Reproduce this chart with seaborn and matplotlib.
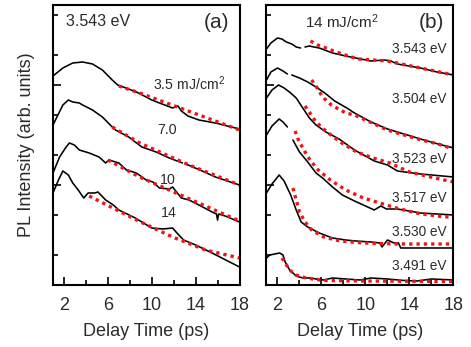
import matplotlib
matplotlib.use('Agg')
import matplotlib.pyplot as plt
import numpy as np
import pandas as pd
import seaborn as sns
from matplotlib.ticker import LogLocator, NullFormatter

# ------------------------------------------------------------------------------------------------ #
# PL transients, log10 of intensity (arb. units, curves offset for clarity). None = gap in trace.
# panel (a): 3.543 eV emission at four excitation fluences
a_labels = ['3.5 mJ/cm$^2$', '7.0', '10', '14']

a35_t = [1.0, 1.45, 1.9, 2.8, 3.7, 4.6, 5.5, 5.95, 6.4, 6.9, 7.9, 8.8, 10.0, 10.7, 11.9, 12.4, 12.7,
         13.3, 14.3, 15.8, 18.0]
a35_pl = [2.09, 2.13, 2.17, 2.22, 2.23, 2.21, 2.15, 2.10, 2.05, 2.00, 1.96, 1.92, 1.85, 1.82, 1.77,
          1.79, 1.74, 1.69, 1.65, 1.62, 1.56]
a35_fit_t = [7.0, 8.9, 18.0]
a35_fit = [1.99, 1.92, 1.55]

a70_t = [1.0, 1.45, 1.9, 2.4, 2.8, 3.4, 3.7, 4.6, 5.5, 6.4, 6.7, 7.9, 9.1, 10.4, 11.6, 12.8, 13.0,
         13.1, 14.4, 15.8, 18.0]
a70_pl = [1.60, 1.70, 1.80, 1.85, 1.83, 1.82, 1.80, 1.75, 1.68, 1.58, 1.55, 1.48, 1.38, 1.33, 1.27,
          1.22, None, 1.21, 1.15, 1.08, 1.00]
a70_fit_t = [6.4, 8.9, 13.4, 18.0]
a70_fit = [1.58, 1.42, 1.20, 1.00]

a10_t = [1.0, 1.3, 1.6, 2.2, 2.5, 2.95, 3.4, 4.3, 5.2, 5.8, 6.1, 7.0, 7.7, 8.6, 9.5, 10.1, 10.7,
         11.6, 11.9, 12.7, 13.4, 14.3, 15.5, 15.9, 16.0, 16.1, 16.7, 18.0]
a10_pl = [1.12, 1.20, 1.28, 1.38, 1.42, 1.40, 1.35, 1.32, 1.28, 1.22, 1.25, 1.22, 1.15, 1.12, 1.05,
          1.03, 0.97, 0.96, 0.98, 0.87, 0.85, 0.80, 0.73, 0.71, 0.65, 0.71, 0.69, 0.63]
a10_fit_t = [6.0, 8.9, 18.0]
a10_fit = [1.25, 1.08, 0.64]

a14_t = [1.0, 1.5, 1.9, 2.4, 2.8, 3.3, 3.8, 4.2, 4.8, 5.1, 5.8, 6.5, 7.0, 8.5, 10.0, 11.0, 11.9,
         12.3, 12.9, 14.0, 15.5, 18.0]
a14_pl = [0.92, 1.05, 1.14, 1.10, 1.02, 0.95, 0.87, 0.92, 0.92, 0.93, 0.85, 0.80, 0.75, 0.67, 0.57,
          0.56, 0.57, 0.52, 0.45, 0.40, 0.32, 0.18]
a14_fit_t = [4.3, 8.8, 11.9, 14.9, 18.0]
a14_fit = [0.89, 0.64, 0.48, 0.35, 0.27]

# panel (b): 14 mJ/cm^2, six emission energies
b_labels = ['3.543 eV', '3.504 eV', '3.523 eV', '3.517 eV', '3.530 eV', '3.491 eV']

b1_t = [1.0, 1.4, 2.0, 2.4, 2.8, 3.3, 3.7, 4.1, 4.3, 4.5, 4.9, 5.3, 5.8, 7.0, 8.2, 9.1, 10.5, 11.7,
        12.3, 12.9, 15.0, 16.5, 18.0]
b1_pl = [2.36, 2.42, 2.47, 2.46, 2.43, 2.41, 2.38, 2.37, None, 2.38, 2.39, 2.38, 2.37, 2.32, 2.29,
         2.27, 2.24, 2.25, 2.24, 2.21, 2.17, 2.13, 2.10]
b1_fit_t = [5.0, 5.65, 6.4, 7.1, 7.9, 8.7, 9.4, 12.0, 15.0, 18.0]
b1_fit = [2.44, 2.40, 2.37, 2.34, 2.31, 2.28, 2.26, 2.24, 2.17, 2.10]

b2_t = [1.0, 1.4, 2.0, 2.5, 2.9, 3.1, 3.3, 4.0, 4.75, 5.5, 6.3, 7.2, 8.3, 9.0, 10.5, 12.0, 13.5,
        15.0, 16.6, 18.0]
b2_pl = [2.05, 2.13, 2.17, 2.14, 2.11, None, 2.10, 2.07, 2.03, 1.98, 1.92, 1.84, 1.77, 1.72, 1.63,
         1.56, 1.51, 1.46, 1.41, 1.37]
b2_fit_t = [5.1, 5.55, 6.1, 6.9, 8.2, 9.0, 10.6, 12.0, 13.5, 15.1, 16.6, 18.0]
b2_fit = [2.05, 1.98, 1.88, 1.80, 1.72, 1.70, 1.62, 1.55, 1.50, 1.45, 1.41, 1.36]

b3_t = [1.0, 1.5, 2.1, 2.6, 3.2, 3.7, 4.3, 4.9, 5.5, 6.4, 7.6, 9.0, 10.8, 12.0, 12.9, 15.0, 18.0]
b3_pl = [1.87, 1.95, 2.00, 1.97, 1.92, 1.87, 1.77, 1.67, 1.60, 1.53, 1.46, 1.35, 1.24, 1.20, 1.14,
         1.11, 1.08]
b3_fit_t = [4.5, 4.95, 5.5, 6.5, 7.7, 9.2, 10.7, 12.2, 14.0, 15.9, 18.0]
b3_fit = [1.79, 1.72, 1.63, 1.53, 1.43, 1.33, 1.27, 1.22, 1.13, 1.08, 1.03]

b4_t = [1.0, 1.5, 2.15, 2.5, 2.9, 3.1, 3.4, 4.0, 4.75, 5.5, 6.1, 7.0, 7.9, 9.0, 10.2, 10.8, 11.4,
        11.9, 12.9, 15.0, 18.0]
b4_pl = [1.50, 1.59, 1.66, 1.63, 1.58, None, 1.45, 1.33, 1.23, 1.12, 1.07, 0.98, 0.90, 0.84, 0.78,
         0.75, 0.79, 0.76, 0.76, 0.72, 0.70]
b4_fit_t = [3.6, 3.9, 4.4, 4.95, 5.7, 6.8, 8.2, 9.8, 11.3, 12.8, 14.6, 16.5, 18.0]
b4_fit = [1.54, 1.45, 1.35, 1.25, 1.15, 1.05, 0.95, 0.87, 0.82, 0.77, 0.72, 0.69, 0.675]

b5_t = [1.0, 1.5, 2.15, 2.6, 3.2, 3.7, 4.15, 4.75, 5.8, 7.0, 8.2, 9.1, 10.5, 11.3, 11.5, 12.0, 12.6,
        13.0, 13.2, 15.0, 18.0]
b5_pl = [0.92, 1.01, 1.10, 1.04, 0.90, 0.75, 0.63, 0.58, 0.52, 0.47, 0.45, 0.44, 0.43, 0.42, 0.38,
         0.45, 0.42, 0.42, 0.37, 0.37, 0.37]
b5_fit_t = [3.4, 3.7, 4.0, 4.5, 5.1, 6.2, 7.7, 9.8, 12.8, 18.0]
b5_fit = [0.97, 0.85, 0.73, 0.63, 0.55, 0.48, 0.44, 0.42, 0.41, 0.41]

b6_t = [1.0, 1.3, 2.2, 2.5, 2.7, 3.1, 3.7, 4.3, 5.0, 5.5, 6.2, 7.0, 8.2, 9.5, 10.5, 12.0, 13.5,
        14.7, 16.0, 18.0]
b6_pl = [0.27, 0.30, 0.32, 0.30, 0.23, 0.15, 0.09, 0.07, 0.07, 0.06, 0.05, 0.07, 0.06, 0.05, 0.07,
         0.06, 0.045, 0.04, 0.06, 0.05]
b6_fit_t = [2.4, 2.7, 3.1, 3.7, 4.6, 6.2, 10.0, 18.0]
b6_fit = [0.27, 0.22, 0.15, 0.10, 0.07, 0.045, 0.04, 0.035]

# ------------------------------------------------------------------------------------------------ #
sns.set_theme(style='ticks')
plt.rcParams['font.family'] = ['Liberation Sans', 'DejaVu Sans']
plt.rcParams['mathtext.fontset'] = 'custom'
plt.rcParams['mathtext.rm'] = 'Liberation Sans'
plt.rcParams['mathtext.default'] = 'regular'

TEXT = '#2b2b2b'
FIT_RED = '#f01414'


def draw_trace(ax, t, log_pl, fit=False):
    df = pd.DataFrame({'t': t, 'pl': np.power(10.0, np.array(log_pl, dtype=float))})
    df['seg'] = df['pl'].isna().cumsum()
    df = df.dropna()
    if fit:
        sns.lineplot(data=df, x='t', y='pl', units='seg', estimator=None, sort=False, ax=ax,
                     color=FIT_RED, linewidth=2.4, linestyle=(0, (1, 1.2)), legend=False)
    else:
        sns.lineplot(data=df, x='t', y='pl', units='seg', estimator=None, sort=False, ax=ax,
                     color='black', linewidth=1.15, legend=False)


def style_axes(ax):
    ax.set_yscale('log')
    ax.set_xlim(1, 18)
    ax.set_ylim(1, 10 ** 2.8)
    ax.set_xticks([2, 6, 10, 14, 18])
    ax.set_xticks([4, 8, 12, 16], minor=True)
    ax.yaxis.set_major_locator(LogLocator(base=10, subs=(1.0,)))
    ax.yaxis.set_minor_locator(LogLocator(base=10, subs=(2.0, 5.0)))
    ax.yaxis.set_major_formatter(NullFormatter())
    ax.yaxis.set_minor_formatter(NullFormatter())
    ax.tick_params(which='both', direction='in', top=False, right=False, width=1.2, colors='black',
                   labelcolor=TEXT, labelsize=13, pad=9)
    ax.tick_params(which='major', length=5.5)
    ax.tick_params(which='minor', length=3.5)
    for sp in ax.spines.values():
        sp.set_linewidth(1.5)
        sp.set_color('black')
        sp.set_visible(True)
    ax.set_xlabel('Delay Time (ps)', fontsize=13, color=TEXT, labelpad=6)


fig = plt.figure(figsize=(4.71, 3.47), dpi=100)
ax_a = fig.add_axes([0.1125, 0.1787, 0.396, 0.8069])
ax_b = fig.add_axes([0.5658, 0.1787, 0.397, 0.8069])
style_axes(ax_a)
style_axes(ax_b)

for t, pl in [(a35_t, a35_pl), (a70_t, a70_pl), (a10_t, a10_pl), (a14_t, a14_pl)]:
    draw_trace(ax_a, t, pl)
for t, pl in [(a35_fit_t, a35_fit), (a70_fit_t, a70_fit), (a10_fit_t, a10_fit), (a14_fit_t, a14_fit)]:
    draw_trace(ax_a, t, pl, fit=True)

for t, pl in [(b1_t, b1_pl), (b2_t, b2_pl), (b3_t, b3_pl), (b4_t, b4_pl), (b5_t, b5_pl), (b6_t, b6_pl)]:
    draw_trace(ax_b, t, pl)
for t, pl in [(b1_fit_t, b1_fit), (b2_fit_t, b2_fit), (b3_fit_t, b3_fit), (b4_fit_t, b4_fit),
              (b5_fit_t, b5_fit), (b6_fit_t, b6_fit)]:
    draw_trace(ax_b, t, pl, fit=True)

ax_a.set_ylabel('PL Intensity (arb. units)', fontsize=13, color=TEXT, labelpad=4)
ax_b.set_ylabel('')

# panel annotations
ax_a.text(0.07, 0.94, '3.543 eV', transform=ax_a.transAxes, fontsize=11.5, color=TEXT, va='center')
ax_a.text(0.877, 0.937, '(a)', transform=ax_a.transAxes, fontsize=15, color=TEXT, va='center', ha='center')
a_label_pos = [(0.538, 0.72), (0.56, 0.554), (0.574, 0.375), (0.58, 0.256)]
for lab, (x, y) in zip(a_labels, a_label_pos):
    ax_a.text(x, y, lab, transform=ax_a.transAxes, fontsize=10.2, color=TEXT, va='center')

ax_b.text(0.206, 0.939, '14 mJ/cm$^2$', transform=ax_b.transAxes, fontsize=11, color=TEXT, va='center')
ax_b.text(0.881, 0.936, '(b)', transform=ax_b.transAxes, fontsize=15, color=TEXT, va='center', ha='center')
b_label_y = [0.842, 0.664, 0.449, 0.312, 0.188, 0.069]
for lab, y in zip(b_labels, b_label_y):
    ax_b.text(0.963, y, lab, transform=ax_b.transAxes, fontsize=9.8, color=TEXT, va='center', ha='right')

fig.savefig('out.png', dpi=100)
